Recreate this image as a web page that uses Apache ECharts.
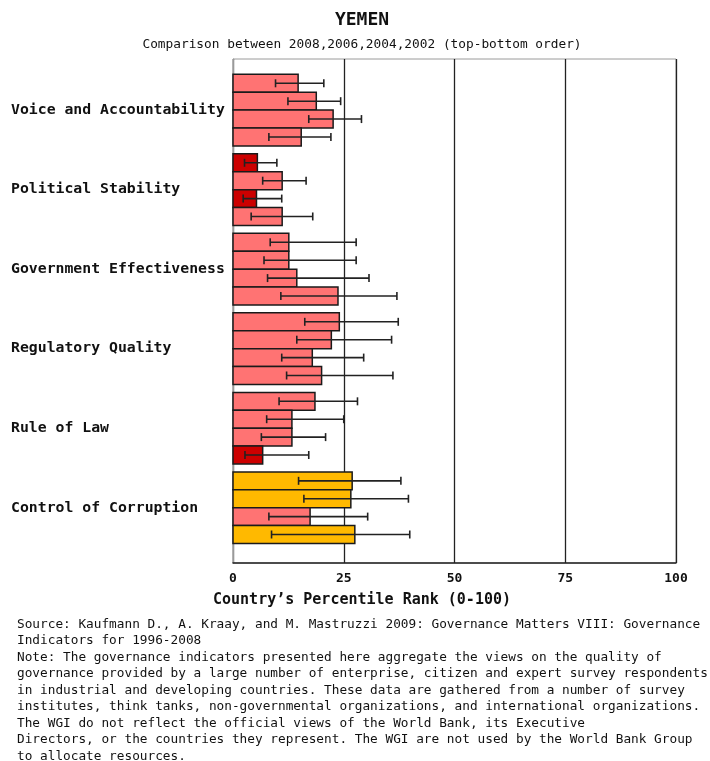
<!DOCTYPE html>
<html>
<head>
<meta charset="utf-8">
<script src="https://cdn.jsdelivr.net/npm/echarts@6/dist/echarts.min.js"></script>
<style>
  html, body { margin: 0; padding: 0; background: #fff; }
  #chart { width: 710px; height: 761px; }
</style>
</head>
<body>
<div id="chart"></div>
<script>
// Worldwide Governance Indicators, Yemen: percentile rank per indicator and year
const categories = [
  'Voice and Accountability',
  'Political Stability',
  'Government Effectiveness',
  'Regulatory Quality',
  'Rule of Law',
  'Control of Corruption'
];
const years = ['2008', '2006', '2004', '2002'];

const rank2008 = [14.7, 5.5, 12.6, 24.0, 18.5, 26.9];
const rank2006 = [18.8, 11.1, 12.6, 22.2, 13.3, 26.6];
const rank2004 = [22.6, 5.3, 14.4, 17.9, 13.3, 17.4];
const rank2002 = [15.4, 11.1, 23.7, 20.0, 6.7, 27.5];

// lower / upper bounds of the margin of error
const low2008 = [9.6, 2.6, 8.4, 16.2, 10.4, 14.8];
const high2008 = [20.5, 9.9, 27.8, 37.3, 28.1, 37.9];
const low2006 = [12.4, 6.7, 7.0, 14.4, 7.6, 16.0];
const high2006 = [24.3, 16.5, 27.8, 35.8, 25.0, 39.6];
const low2004 = [17.1, 2.3, 7.8, 11.0, 6.4, 8.1];
const high2004 = [29.0, 11.0, 30.7, 29.5, 20.9, 30.4];
const low2002 = [8.1, 4.1, 10.8, 12.1, 2.7, 8.7];
const high2002 = [22.1, 18.0, 37.0, 36.1, 17.1, 39.9];

const xTicks = [0, 25, 50, 75, 100];

const ranks = [rank2008, rank2006, rank2004, rank2002];
const lows = [low2008, low2006, low2004, low2002];
const highs = [high2008, high2006, high2004, high2002];

// percentile band colours
function bandColor(v) {
  if (v < 10) return '#cc0000';
  if (v < 25) return '#ff7373';
  if (v < 50) return '#ffb900';
  return '#00cc00';
}

// rows: [categoryIndex, yearIndex, rank, low, high]
const rows = [];
categories.forEach((c, ci) => {
  years.forEach((y, yi) => {
    rows.push([ci, yi, ranks[yi][ci], lows[yi][ci], highs[yi][ci]]);
  });
});

const BAR_FRAC = 0.225;       // bar thickness as a share of one category band
const GROUP_FRAC = BAR_FRAC * years.length;

const mono = '"DejaVu Sans Mono", "Liberation Mono", monospace';

const chart = echarts.init(document.getElementById('chart'), null, { renderer: 'canvas' });

chart.setOption({
  animation: false,
  backgroundColor: '#ffffff',
  grid: {
    left: 233, right: 34, top: 59, bottom: 198,
    show: true, borderColor: '#9a9a9a', borderWidth: 1, backgroundColor: 'transparent'
  },
  xAxis: {
    type: 'value',
    min: 0, max: 100, interval: 25,
    axisLine: { show: true, onZero: false, lineStyle: { color: '#222', width: 1.5 } },
    axisTick: { show: false },
    splitLine: { show: true, lineStyle: { color: '#222', width: 1.3 } },
    axisLabel: {
      margin: 9,
      fontFamily: mono, fontSize: 13, fontWeight: 'bold', color: '#111',
      customValues: xTicks,
      formatter: v => String(v)
    }
  },
  yAxis: {
    type: 'value',
    inverse: true,
    min: -0.643, max: 5.696,
    axisLine: { show: true, onZero: false, lineStyle: { color: '#9a9a9a', width: 1 } },
    axisTick: { show: false },
    splitLine: { show: false },
    axisLabel: {
      show: true,
      customValues: categories.map((c, i) => i),
      formatter: v => categories[Math.round(v)] || '',
      align: 'left',
      margin: 222,
      padding: [0, 0, 8, 0],
      fontFamily: mono, fontSize: 14.8, fontWeight: 'bold', color: '#111'
    }
  },
  graphic: [
    {
      type: 'text', x: 362, y: 20,
      style: {
        text: 'YEMEN', align: 'center', verticalAlign: 'middle',
        font: 'bold 18px ' + mono, fill: '#111'
      }
    },
    {
      type: 'text', x: 362, y: 45,
      style: {
        text: 'Comparison between 2008,2006,2004,2002 (top-bottom order)',
        align: 'center', verticalAlign: 'middle',
        font: '12.8px ' + mono, fill: '#111'
      }
    },
    {
      type: 'text', x: 362, y: 600,
      style: {
        text: 'Country\u2019s Percentile Rank (0-100)',
        align: 'center', verticalAlign: 'middle',
        font: 'bold 15px ' + mono, fill: '#111'
      }
    },
    {
      type: 'text', x: 17, y: 616,
      style: {
        text: [
          'Source: Kaufmann D., A. Kraay, and M. Mastruzzi 2009: Governance Matters VIII: Governance',
          'Indicators for 1996-2008',
          'Note: The governance indicators presented here aggregate the views on the quality of',
          'governance provided by a large number of enterprise, citizen and expert survey respondents',
          'in industrial and developing countries. These data are gathered from a number of survey',
          'institutes, think tanks, non-governmental organizations, and international organizations.',
          'The WGI do not reflect the official views of the World Bank, its Executive',
          'Directors, or the countries they represent. The WGI are not used by the World Bank Group',
          'to allocate resources.'
        ].join('\n'),
        align: 'left', verticalAlign: 'top',
        font: '12.75px ' + mono, lineHeight: 16.5, fill: '#111'
      }
    }
  ],
  series: [
    {
      // percentile-rank bars
      type: 'custom',
      data: rows,
      encode: { x: 2, y: 0 },
      clip: false,
      renderItem: function (params, api) {
        const ci = api.value(0), yi = api.value(1), v = api.value(2);
        const top = ci - GROUP_FRAC / 2 + yi * BAR_FRAC;
        const p0 = api.coord([0, top]);
        const p1 = api.coord([v, top + BAR_FRAC]);
        return {
          type: 'rect',
          shape: { x: p0[0], y: p0[1], width: p1[0] - p0[0], height: p1[1] - p0[1] },
          style: { fill: bandColor(v), stroke: '#1a1a1a', lineWidth: 1.5 }
        };
      },
      z: 2
    },
    {
      // margin-of-error whiskers
      type: 'custom',
      data: rows,
      encode: { x: [3, 4], y: 0 },
      clip: false,
      renderItem: function (params, api) {
        const ci = api.value(0), yi = api.value(1);
        const lo = api.value(3), hi = api.value(4);
        const mid = ci - GROUP_FRAC / 2 + (yi + 0.5) * BAR_FRAC;
        const a = api.coord([lo, mid]);
        const b = api.coord([hi, mid]);
        const cap = 4;
        const style = { stroke: '#222', lineWidth: 1.6 };
        return {
          type: 'group',
          children: [
            { type: 'line', shape: { x1: a[0], y1: a[1], x2: b[0], y2: b[1] }, style: style },
            { type: 'line', shape: { x1: a[0], y1: a[1] - cap, x2: a[0], y2: a[1] + cap }, style: style },
            { type: 'line', shape: { x1: b[0], y1: b[1] - cap, x2: b[0], y2: b[1] + cap }, style: style }
          ]
        };
      },
      z: 3
    }
  ]
});
</script>
</body>
</html>
